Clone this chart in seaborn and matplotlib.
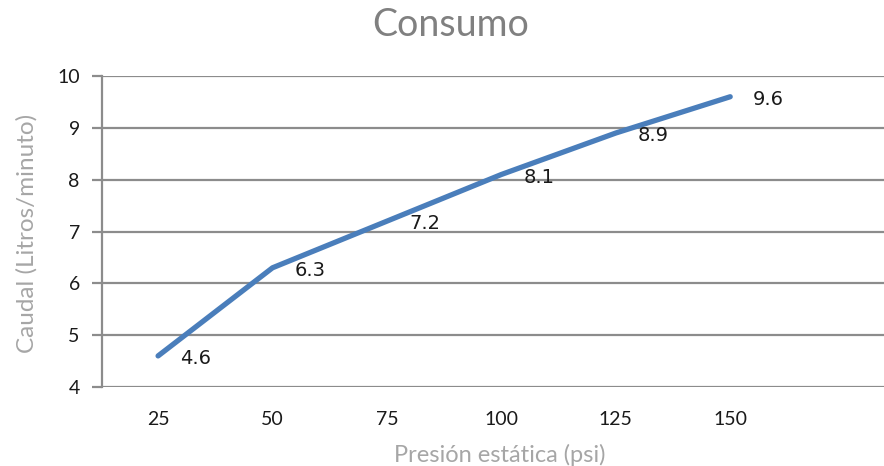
import pandas as pd
import seaborn as sns
import matplotlib.pyplot as plt

# Consumo vs presión
presion = [25, 50, 75, 100, 125, 150]
caudal = [4.6, 6.3, 7.2, 8.1, 8.9, 9.6]
y_ticks = [4, 5, 6, 7, 8, 9, 10]

df = pd.DataFrame({'Presion': presion, 'Caudal': caudal})

sns.set_style('white')
plt.rcParams['font.family'] = ['Lato', 'DejaVu Sans']

fig = plt.figure(figsize=(8.84, 4.66), dpi=100)
ax = fig.add_axes([0.1154, 0.1695, 0.8846, 0.6674])

grid_col = '#8c8c8c'
for t in y_ticks:
    ax.axhline(t, color=grid_col, lw=1.6, zorder=1)

sns.lineplot(data=df, x='Presion', y='Caudal', ax=ax, color='#4a7ebb',
             linewidth=3.8, zorder=3, solid_capstyle='round')

for x, y in zip(presion, caudal):
    ax.annotate(f'{y}', (x, y), xytext=(16, -2), textcoords='offset points',
                ha='left', va='center', fontsize=14, color='#1a1a1a',
                family='DejaVu Sans')

ax.set_xlim(12.75, 183.6)
ax.set_ylim(4, 10)
ax.set_xticks(presion)
ax.set_yticks(y_ticks)
ax.tick_params(axis='x', length=0, pad=17, labelsize=14, labelcolor='#1a1a1a')
ax.tick_params(axis='y', length=7, width=1.6, color=grid_col, pad=9,
               labelsize=14, labelcolor='#1a1a1a', left=True)

for s in ['top', 'right', 'bottom']:
    ax.spines[s].set_visible(False)
ax.spines['left'].set_color(grid_col)
ax.spines['left'].set_linewidth(1.6)

ax.set_xlabel('Presión estática (psi)', fontsize=17, color='#a6a6a6')
ax.set_ylabel('Caudal (Litros/minuto)', fontsize=17.5, color='#a6a6a6')
ax.xaxis.set_label_coords(0.509, -0.183)
ax.yaxis.set_label_coords(-0.083, 0.495)

fig.text(0.51, 0.947, 'Consumo', ha='center', va='center', fontsize=27,
         color='#808080')

fig.savefig('out.png', dpi=100)
